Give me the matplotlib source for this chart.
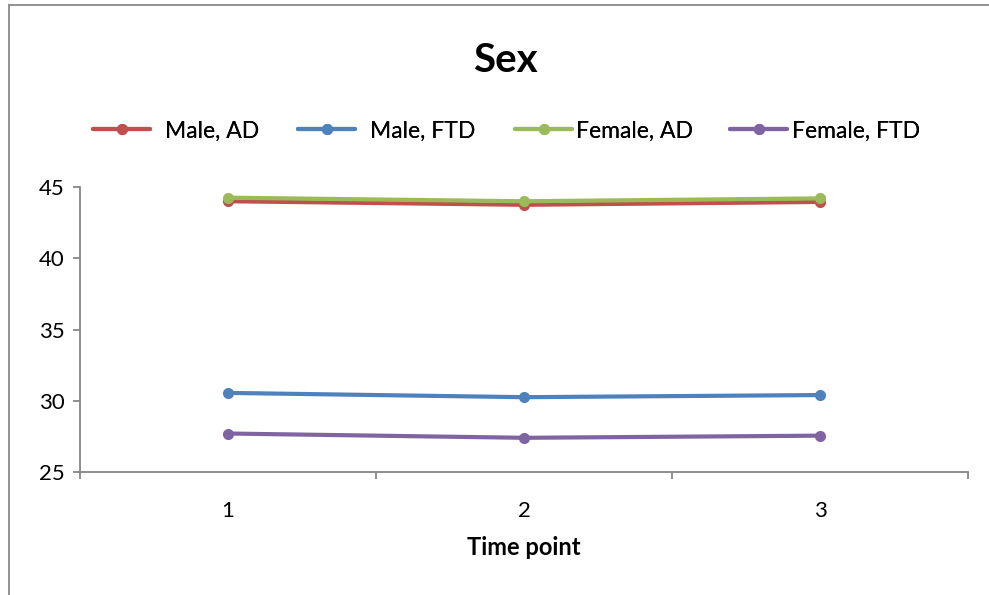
import matplotlib
matplotlib.use("Agg")
import matplotlib.pyplot as plt
from matplotlib.lines import Line2D
from matplotlib.ticker import FixedLocator, NullFormatter

plt.rcParams['font.family'] = ['Lato', 'DejaVu Sans']

# Data
time_points = [1, 2, 3]
tick_labels = ["1", "2", "3"]
series_names = ["Male, AD", "Male, FTD", "Female, AD", "Female, FTD"]
male_ad = [44.0, 43.75, 43.95]
male_ftd = [30.55, 30.25, 30.4]
female_ad = [44.25, 44.0, 44.2]
female_ftd = [27.7, 27.4, 27.55]
series_values = [male_ad, male_ftd, female_ad, female_ftd]
colors = ["#C0504D", "#4F81BD", "#9BBB59", "#8064A2"]

W, H = 989, 595
fig = plt.figure(figsize=(W / 100, H / 100), dpi=100)
fig.patch.set_facecolor("white")

# chart-area border (left and top edges visible)
border_col = "#8a8a8a"
fig.add_artist(Line2D([8.5 / W, 8.5 / W], [0, 1 - 5 / H], transform=fig.transFigure,
                      color=border_col, lw=1.3))
fig.add_artist(Line2D([8.5 / W, 1], [1 - 5 / H, 1 - 5 / H], transform=fig.transFigure,
                      color=border_col, lw=1.3))

ax = fig.add_axes([80 / W, 123 / H, 888 / W, 285 / H])
ax.set_xlim(0.5, 3.5)
ax.set_ylim(25, 45)

handles = []
for name, vals, c in zip(series_names, series_values, colors):
    h, = ax.plot(time_points, vals, color=c, lw=3.0, marker="o", markersize=7,
                 solid_capstyle="round", label=name, clip_on=False)
    handles.append(h)

# axes styling
axis_col = "#868686"
for s in ["top", "right"]:
    ax.spines[s].set_visible(False)
for s in ["left", "bottom"]:
    ax.spines[s].set_color(axis_col)
    ax.spines[s].set_linewidth(1.3)

ax.set_yticks([25, 30, 35, 40, 45])
ax.tick_params(axis="y", direction="out", length=5, width=1.3, color=axis_col,
               labelsize=16, pad=6, labelcolor="black")

# category boundaries get tick marks, categories get the labels
ax.xaxis.set_major_locator(FixedLocator([0.5, 1.5, 2.5, 3.5]))
ax.xaxis.set_major_formatter(NullFormatter())
ax.xaxis.set_minor_locator(FixedLocator(time_points))
ax.set_xticklabels(tick_labels, minor=True)
ax.tick_params(axis="x", which="major", direction="out", length=5, width=1.3, color=axis_col)
ax.tick_params(axis="x", which="minor", length=0, labelsize=16, pad=21, labelcolor="black")

ax.set_xlabel("Time point", fontsize=17, fontweight="bold", labelpad=11)

fig.text(505 / W, 1 - 60 / H, "Sex", ha="center", va="center", fontsize=29, fontweight="bold")

# legend entries placed individually along the top
legend_fs = 16.5
legend_x = [93, 298, 515, 730]
text_pads = [0.65, 0.65, 0.17, 0.2]
for h, x0, tp in zip(handles, legend_x, text_pads):
    leg = fig.legend(handles=[h], labels=[h.get_label()], loc="center left",
                     bbox_to_anchor=(x0 / W, 1 - 131 / H), frameon=False,
                     fontsize=legend_fs, handlelength=2.49, handletextpad=tp,
                     borderpad=0, borderaxespad=0, numpoints=1)
    fig.add_artist(leg)

fig.savefig("out.png", dpi=100, facecolor="white")
